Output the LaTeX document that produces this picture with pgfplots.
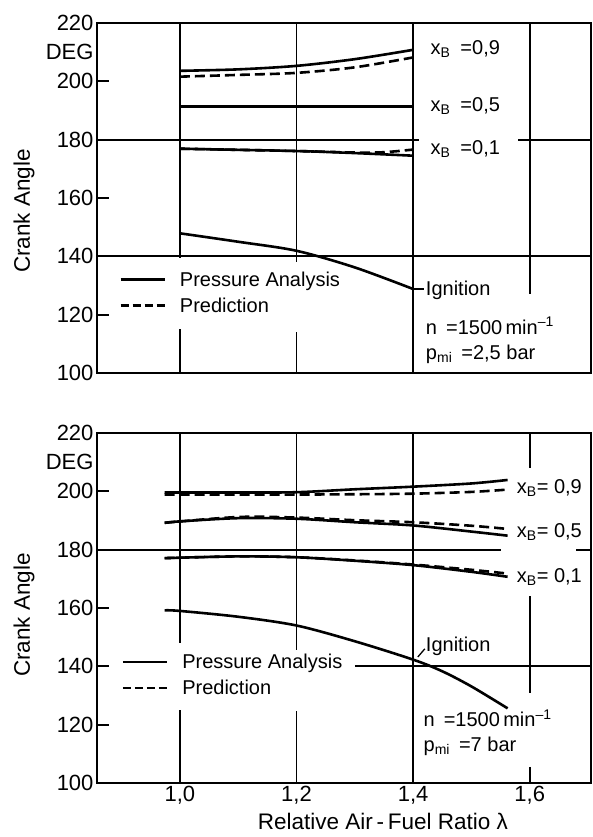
\documentclass[border=0pt]{standalone}
\usepackage{fontspec}
\setmainfont{Liberation Sans}
\usepackage{pgfplots}
\pgfplotsset{compat=1.18}
\newcommand\ann{\fontsize{20}{22}\selectfont}
\newcommand\lab{\fontsize{22.5}{24}\selectfont}
\tikzset{gridl/.style={black, line width=1.8pt}}
\pgfplotsset{
  panel/.style={
    width=494pt, height=350pt, scale only axis,
    anchor=south west,
    xmin=0.858, xmax=1.705, ymin=100, ymax=220,
    axis line style={line width=2pt},
    xtick={1.0,1.2,1.4,1.6},
    x tick style={draw=none},
    ytick={100,120,...,220},
    ytick pos=left,
    y tick style={line width=1.8pt, black},
    major tick length=12pt,
    tick align=inside,
    extra y ticks={210}, extra y tick labels={DEG},
    extra y tick style={major tick length=0pt},
    tick label style={font=\fontsize{22}{24}\selectfont},
    /pgf/number format/assume math mode=true,
    xticklabel style={/pgf/number format/.cd, use comma, fixed, fixed zerofill, precision=1},
    clip=false,
    legend style={draw=none, fill=none, font=\ann, row sep=6pt, inner sep=0pt, anchor=west},
    legend cell align=left,
    legend image code/.code={\draw[##1] (0pt,0pt) -- (44pt,0pt); \path (56pt,0pt);},
  },
  solidc/.style={black, line width=2.6pt, smooth, tension=0.5},
  dashc/.style={black, line width=2.6pt, dash pattern=on 10pt off 5pt, smooth, tension=0.5},
}
\begin{document}
\begin{tikzpicture}
% ---------------- top panel (p_mi = 2.5 bar)
\begin{axis}[panel, at={(0pt,0pt)}, xticklabels={},
  legend style={at={(axis cs:0.896,127.5)}}]
\addlegendimage{black, line width=2.6pt}\addlegendentry{Pressure Analysis}
\addlegendimage{black, line width=2.6pt, dash pattern=on 8pt off 4pt}\addlegendentry{Prediction}
% grid segments
\draw[gridl] (axis cs:1.0,220) -- (axis cs:1.0,139.5);
\draw[gridl] (axis cs:1.0,115) -- (axis cs:1.0,100);
\draw[gridl] (axis cs:1.2,220) -- (axis cs:1.2,138);
\draw[gridl] (axis cs:1.2,114) -- (axis cs:1.2,100);
\draw[gridl] (axis cs:1.4,220) -- (axis cs:1.4,100);
\draw[gridl] (axis cs:1.6,220) -- (axis cs:1.6,127);
\draw[gridl] (axis cs:0.858,180) -- (axis cs:1.41,180);
\draw[gridl] (axis cs:1.58,180) -- (axis cs:1.705,180);
\draw[gridl] (axis cs:0.858,140) -- (axis cs:1.705,140);
% x_B = 0.9
\addplot[dashc, forget plot] coordinates {(1.0,201.6) (1.1,202.2) (1.2,202.9) (1.3,204.8) (1.4,208.2)};
\addplot[solidc, forget plot] coordinates {(1.0,203.6) (1.1,204.1) (1.2,205.3) (1.3,207.6) (1.4,210.8)};
% x_B = 0.5
\addplot[dashc, forget plot] coordinates {(1.0,191.4) (1.2,191.4) (1.4,191.4)};
\addplot[solidc, forget plot] coordinates {(1.0,191.4) (1.2,191.4) (1.4,191.4)};
% x_B = 0.1
\addplot[dashc, forget plot] coordinates {(1.0,176.9) (1.2,176.1) (1.3,175.6) (1.35,175.7) (1.4,176.6)};
\addplot[solidc, forget plot] coordinates {(1.0,176.9) (1.2,176.1) (1.3,175.4) (1.4,174.5)};
% ignition
\addplot[solidc, forget plot] coordinates {(1.0,147.9) (1.1,145.0) (1.2,141.9) (1.3,136.2) (1.4,128.8)};
% annotations
\node[anchor=west, font=\ann] at (axis cs:1.424,211) {x\textsubscript{B}\hspace{0.5em}=0,9};
\node[anchor=west, font=\ann] at (axis cs:1.424,191.6) {x\textsubscript{B}\hspace{0.5em}=0,5};
\node[anchor=west, font=\ann] at (axis cs:1.424,176.8) {x\textsubscript{B}\hspace{0.5em}=0,1};
\draw[gridl] (axis cs:1.4,128.8) -- (axis cs:1.418,128.8);
\node[anchor=west, font=\ann] at (axis cs:1.416,128.5) {Ignition};
\node[anchor=west, font=\ann] at (axis cs:1.416,116.2) {n\hspace{0.45em}=1500\,min\textsuperscript{--1}};
\node[anchor=west, font=\ann] at (axis cs:1.416,106.5) {p\textsubscript{mi}\hspace{0.45em}=2,5 bar};
\end{axis}
% ---------------- bottom panel (p_mi = 7 bar)
\begin{axis}[panel, at={(0pt,-410pt)},
  legend style={at={(axis cs:0.9,137)}}]
\addlegendimage{black, line width=2.6pt}\addlegendentry{Pressure Analysis}
\addlegendimage{black, line width=2.6pt, dash pattern=on 8pt off 4pt}\addlegendentry{Prediction}
\draw[gridl] (axis cs:1.0,220) -- (axis cs:1.0,148);
\draw[gridl] (axis cs:1.0,125) -- (axis cs:1.0,100);
\draw[gridl] (axis cs:1.2,220) -- (axis cs:1.2,145.7);
\draw[gridl] (axis cs:1.2,124.6) -- (axis cs:1.2,100);
\draw[gridl] (axis cs:1.4,220) -- (axis cs:1.4,100);
\draw[gridl] (axis cs:1.6,220) -- (axis cs:1.6,208);
\draw[gridl] (axis cs:1.6,164) -- (axis cs:1.6,131);
\draw[gridl] (axis cs:1.6,105.5) -- (axis cs:1.6,100);
\draw[gridl] (axis cs:0.858,180) -- (axis cs:1.55,180);
\draw[gridl] (axis cs:1.68,180) -- (axis cs:1.705,180);
\draw[gridl] (axis cs:1.30,140) -- (axis cs:1.705,140);
% x_B = 0.9
\addplot[dashc, forget plot] coordinates {(0.974,198.9) (1.1,198.9) (1.2,198.9) (1.3,199.0) (1.4,199.2) (1.5,199.8) (1.562,200.6)};
\addplot[solidc, forget plot] coordinates {(0.974,199.6) (1.1,199.6) (1.2,199.7) (1.3,200.7) (1.4,201.6) (1.5,202.7) (1.562,203.9)};
% x_B = 0.5
\addplot[dashc, forget plot] coordinates {(0.974,189.2) (1.1,191.2) (1.2,191.0) (1.3,190.1) (1.4,189.4) (1.5,188.2) (1.562,187.1)};
\addplot[solidc, forget plot] coordinates {(0.974,189.2) (1.0,189.7) (1.1,190.8) (1.2,190.6) (1.3,189.4) (1.4,188.3) (1.5,186.2) (1.562,184.8)};
% x_B = 0.1
\addplot[dashc, forget plot] coordinates {(0.974,177.1) (1.1,177.7) (1.2,177.4) (1.3,176.3) (1.4,174.9) (1.5,173.1) (1.562,171.8)};
\addplot[solidc, forget plot] coordinates {(0.974,177.1) (1.1,177.7) (1.2,177.4) (1.3,176.2) (1.4,174.7) (1.5,172.4) (1.562,170.7)};
% ignition
\addplot[solidc, forget plot] coordinates {(0.974,159.2) (1.0,159.0) (1.1,157.0) (1.2,154.0) (1.3,148.6) (1.4,142.3) (1.45,138.3) (1.5,133.1) (1.562,125.6)};
\node[anchor=west, font=\ann] at (axis cs:1.572,201) {x\textsubscript{B}= 0,9};
\node[anchor=west, font=\ann] at (axis cs:1.572,186.2) {x\textsubscript{B}= 0,5};
\node[anchor=west, font=\ann] at (axis cs:1.572,170.7) {x\textsubscript{B}= 0,1};
\draw[black, line width=1.3pt] (axis cs:1.408,143.2) -- (axis cs:1.42,146);
\node[anchor=west, font=\ann] at (axis cs:1.416,146.7) {Ignition};
\node[anchor=west, font=\ann] at (axis cs:1.412,122.2) {n\hspace{0.45em}=1500\,min\textsuperscript{--1}};
\node[anchor=west, font=\ann] at (axis cs:1.412,112.5) {p\textsubscript{mi}\hspace{0.45em}=7 bar};
\end{axis}
% axis titles
\node[rotate=90, font=\lab] at (-73pt,162pt) {Crank Angle};
\node[rotate=90, font=\lab] at (-73pt,-242pt) {Crank Angle};
\node[anchor=base, font=\lab] at (286pt,-456pt) {Relative Air\,-\,Fuel Ratio λ};
\pgfresetboundingbox
\useasboundingbox (-97pt,-464pt) rectangle (496pt,373pt);
\end{tikzpicture}
\end{document}
